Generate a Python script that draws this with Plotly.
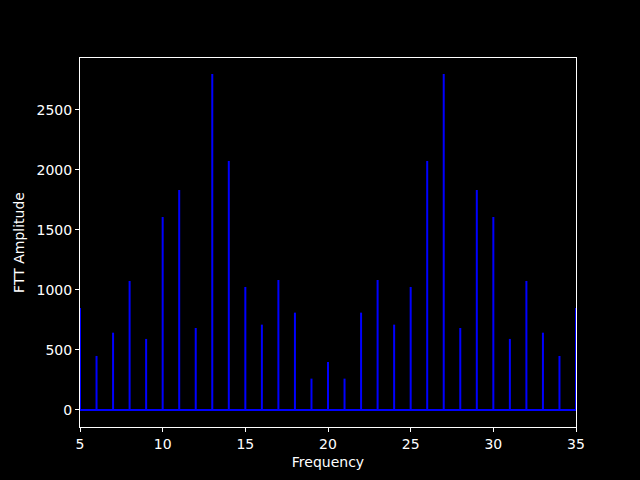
import plotly.graph_objects as go

freqs = list(range(5, 36))
amps_left = [850, 450, 644, 1075, 592, 1608, 1833, 683, 2800, 2075, 1025, 711, 1083, 811, 261, 400]
# symmetric spectrum around 20
amps = amps_left + amps_left[-2::-1]

xs, ys = [], []
for f, a in zip(freqs, amps):
    xs += [f, f, None]
    ys += [0, a, None]

fig = go.Figure()
fig.add_trace(go.Scatter(x=xs, y=ys, mode="lines",
                         line=dict(color="#0000ff", width=2),
                         hoverinfo="skip", showlegend=False))
fig.add_trace(go.Scatter(x=[freqs[0], freqs[-1]], y=[0, 0], mode="lines",
                         line=dict(color="#0000ff", width=2),
                         hoverinfo="skip", showlegend=False))

font = dict(family="DejaVu Sans", size=14, color="white")
fig.update_layout(
    width=640, height=480,
    paper_bgcolor="black", plot_bgcolor="black",
    margin=dict(l=80, r=64, t=58, b=53),
    font=font,
    xaxis=dict(range=[5, 35], tickvals=[5, 10, 15, 20, 25, 30, 35],
               showgrid=False, zeroline=False, showline=True, linecolor="white",
               linewidth=1, mirror=True, ticks="outside", ticklen=4,
               tickcolor="white", tickfont=font, layer="above traces",
               title=dict(text="Frequency", font=font, standoff=6)),
    yaxis=dict(range=[-142, 2933], tickvals=[0, 500, 1000, 1500, 2000, 2500],
               showgrid=False, zeroline=False, showline=True, linecolor="white",
               linewidth=1, mirror=True, ticks="outside", ticklen=4,
               tickcolor="white", tickfont=font, layer="above traces",
               title=dict(text="FTT Amplitude", font=font, standoff=8)),
)
fig.write_html("out.html", config={"displayModeBar": False},
               post_script="document.body.style.margin='0';document.body.style.background='black';")
